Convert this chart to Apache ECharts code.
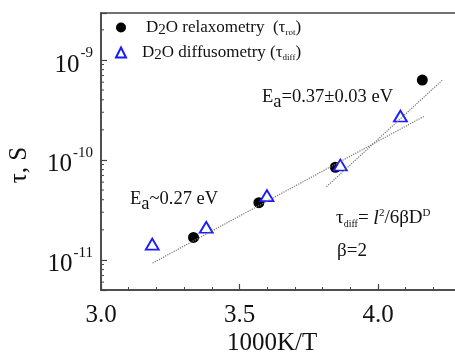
<!DOCTYPE html>
<html>
<head>
<meta charset="utf-8">
<script src="https://cdn.jsdelivr.net/npm/echarts@6/dist/echarts.min.js"></script>
<style>
html, body { margin: 0; padding: 0; background: #fff; }
#main { width: 455px; height: 356px; }
</style>
</head>
<body>
<div id="main"></div>
<script>
// x = 1000K/T, tau in s
var relaxX = [3.334, 3.570, 3.846, 4.160];
var relaxTau = [1.68e-11, 3.74e-11, 8.45e-11, 6.3e-10];
var diffX = [3.185, 3.380, 3.599, 3.864, 4.081];
var diffTau = [1.44e-11, 2.12e-11, 4.4e-11, 8.9e-11, 2.75e-10];

// dotted fit lines, two ends each
var fitLowX = [3.186, 4.168];
var fitLowTau = [9.3e-12, 2.75e-10];
var fitHighX = [3.814, 4.233];
var fitHighTau = [5.4e-11, 6.3e-10];

var yMajorExp = [-11, -10, -9];
var yMinorMult = [2, 3, 4, 5, 6, 7, 8, 9];
var yMinorExp = [-12, -11, -10, -9];

var X_MIN = 3.0, X_MAX = 4.5;
var Y_MIN = 5e-12, Y_MAX = 2.95e-9;
var FONT = '"Liberation Serif", "DejaVu Serif", serif';

function pairs(xs, ys) {
	return xs.map(function (x, i) { return [x, ys[i]]; });
}

// minor tick positions of the log axis (2..9 x 10^n)
var minorTicks = [];
yMinorExp.forEach(function (e) {
	yMinorMult.forEach(function (m) {
		var v = m * Math.pow(10, e);
		if (v > Y_MIN && v < Y_MAX) minorTicks.push([X_MIN, v]);
	});
});

var chart = echarts.init(document.getElementById('main'));

var option = {
	animation: false,
	backgroundColor: '#fff',
	grid: {
		left: 101, top: 13, right: -61.5, bottom: 66,
		containLabel: false, outerBoundsMode: 'none',
		show: true, borderColor: '#444', borderWidth: 1.5
	},
	legend: {
		orient: 'vertical',
		left: 110, top: 14,
		itemWidth: 10, itemHeight: 10, itemGap: 6,
		data: ['relax', 'diff'],
		formatter: function (name) {
			if (name === 'relax') return '{g1|}{t|D}{s|2}{t|O relaxometry  (τ}{i|rot}{t|)}';
			return '{g2|}{t|D}{s|2}{t|O diffusometry (τ}{i|diff}{t|)}';
		},
		textStyle: {
			color: '#111', fontFamily: FONT, fontSize: 17,
			rich: {
				g1: { width: 15 },
				g2: { width: 11 },
				t: { fontFamily: FONT, fontSize: 17, color: '#111' },
				s: { fontFamily: FONT, fontSize: 15, color: '#111', padding: [6, 0, 0, 0] },
				i: { fontFamily: FONT, fontSize: 9, color: '#111', padding: [10, 0, 0, 0] }
			}
		}
	},
	xAxis: {
		type: 'value', min: X_MIN, max: X_MAX, interval: 0.5,
		axisLine: { lineStyle: { color: '#444', width: 1.5 } },
		axisTick: { inside: true, length: 6, lineStyle: { color: '#444', width: 1.2 } },
		minorTick: { show: true, splitNumber: 5, length: 3, lineStyle: { color: '#444', width: 1 } },
		splitLine: { show: false },
		axisLabel: {
			margin: 13, color: '#111', fontFamily: FONT, fontSize: 25,
			formatter: function (v) { return v.toFixed(1); }
		}
	},
	yAxis: {
		type: 'log', logBase: 10, min: Y_MIN, max: Y_MAX,
		axisLine: { lineStyle: { color: '#444', width: 1.5 } },
		axisTick: { inside: true, length: 6, lineStyle: { color: '#444', width: 1.2 } },
		splitLine: { show: false },
		axisLabel: {
			margin: 8, color: '#111',
			formatter: function (v) {
				var lg = Math.log(v) / Math.LN10;
				var e = Math.round(lg);
				if (Math.abs(lg - e) > 1e-6 || yMajorExp.indexOf(e) < 0) return '';
				return '{b|10}{p|' + e + '}';
			},
			rich: {
				b: { fontFamily: FONT, fontSize: 25, color: '#111', lineHeight: 28, padding: [10, 0, 0, 0] },
				p: { fontFamily: FONT, fontSize: 15, color: '#111', verticalAlign: 'top', lineHeight: 28, padding: [0, 0, 12, 1] }
			}
		}
	},
	graphic: [
		{
			type: 'text', x: 19, y: 165, rotation: Math.PI / 2,
			style: { text: 'τ, S', font: '25px ' + FONT, fill: '#111', align: 'center', verticalAlign: 'middle' }
		},
		{
			type: 'text', left: 262, top: 88,
			style: {
				text: '{e|E}{a|a}{e|=0.37±0.03 eV}',
				rich: {
					e: { fontFamily: FONT, fontSize: 18.5, fill: '#111' },
					a: { fontFamily: FONT, fontSize: 18.5, fill: '#111', padding: [10, 0, 0, 0] }
				}
			}
		},
		{
			type: 'text', left: 130, top: 190,
			style: {
				text: '{e|E}{a|a}{e|~0.27 eV}',
				rich: {
					e: { fontFamily: FONT, fontSize: 18.5, fill: '#111' },
					a: { fontFamily: FONT, fontSize: 18.5, fill: '#111', padding: [10, 0, 0, 0] }
				}
			}
		},
		{
			type: 'text', left: 336, top: 208,
			style: {
				text: '{e|τ}{d|diff}{e|= }{l|l}{p|2}{e|/6βD}{p|D}',
				rich: {
					e: { fontFamily: FONT, fontSize: 19, fill: '#111' },
					d: { fontFamily: FONT, fontSize: 10, fill: '#111', padding: [12, 0, 0, 0] },
					l: { fontFamily: FONT, fontSize: 20, fontStyle: 'italic', fill: '#111' },
					p: { fontFamily: FONT, fontSize: 11, fill: '#111', padding: [0, 0, 10, 0] }
				}
			}
		},
		{
			type: 'text', left: 337, top: 242,
			style: { text: 'β=2', font: '19px ' + FONT, fill: '#111' }
		},
		{
			type: 'text', left: 227, top: 331,
			style: { text: '1000K/T', font: '25px ' + FONT, fill: '#111' }
		}
	],
	series: [
		{
			name: 'fitLow', type: 'line', data: pairs(fitLowX, fitLowTau),
			symbol: 'none', silent: true,
			lineStyle: { type: 'dotted', color: '#777', width: 1.2 }
		},
		{
			name: 'fitHigh', type: 'line', data: pairs(fitHighX, fitHighTau),
			symbol: 'none', silent: true,
			lineStyle: { type: 'dotted', color: '#777', width: 1.2 }
		},
		{
			name: 'relax', type: 'scatter', data: pairs(relaxX, relaxTau),
			symbol: 'circle', symbolSize: 11,
			itemStyle: { color: '#000', opacity: 1 }
		},
		{
			name: 'diff', type: 'scatter', data: pairs(diffX, diffTau),
			symbol: 'triangle', symbolSize: [13, 11],
			itemStyle: { color: '#fff', borderColor: '#1a1aff', borderWidth: 1.8, opacity: 1 }
		},
		{
			name: 'minorY', type: 'custom', data: minorTicks, silent: true, clip: false,
			renderItem: function (params, api) {
				var p = api.coord([api.value(0), api.value(1)]);
				return {
					type: 'line',
					shape: { x1: p[0], y1: p[1], x2: p[0] + 3, y2: p[1] },
					style: { stroke: '#444', lineWidth: 1 }
				};
			}
		}
	]
};

chart.setOption(option);
</script>
</body>
</html>
